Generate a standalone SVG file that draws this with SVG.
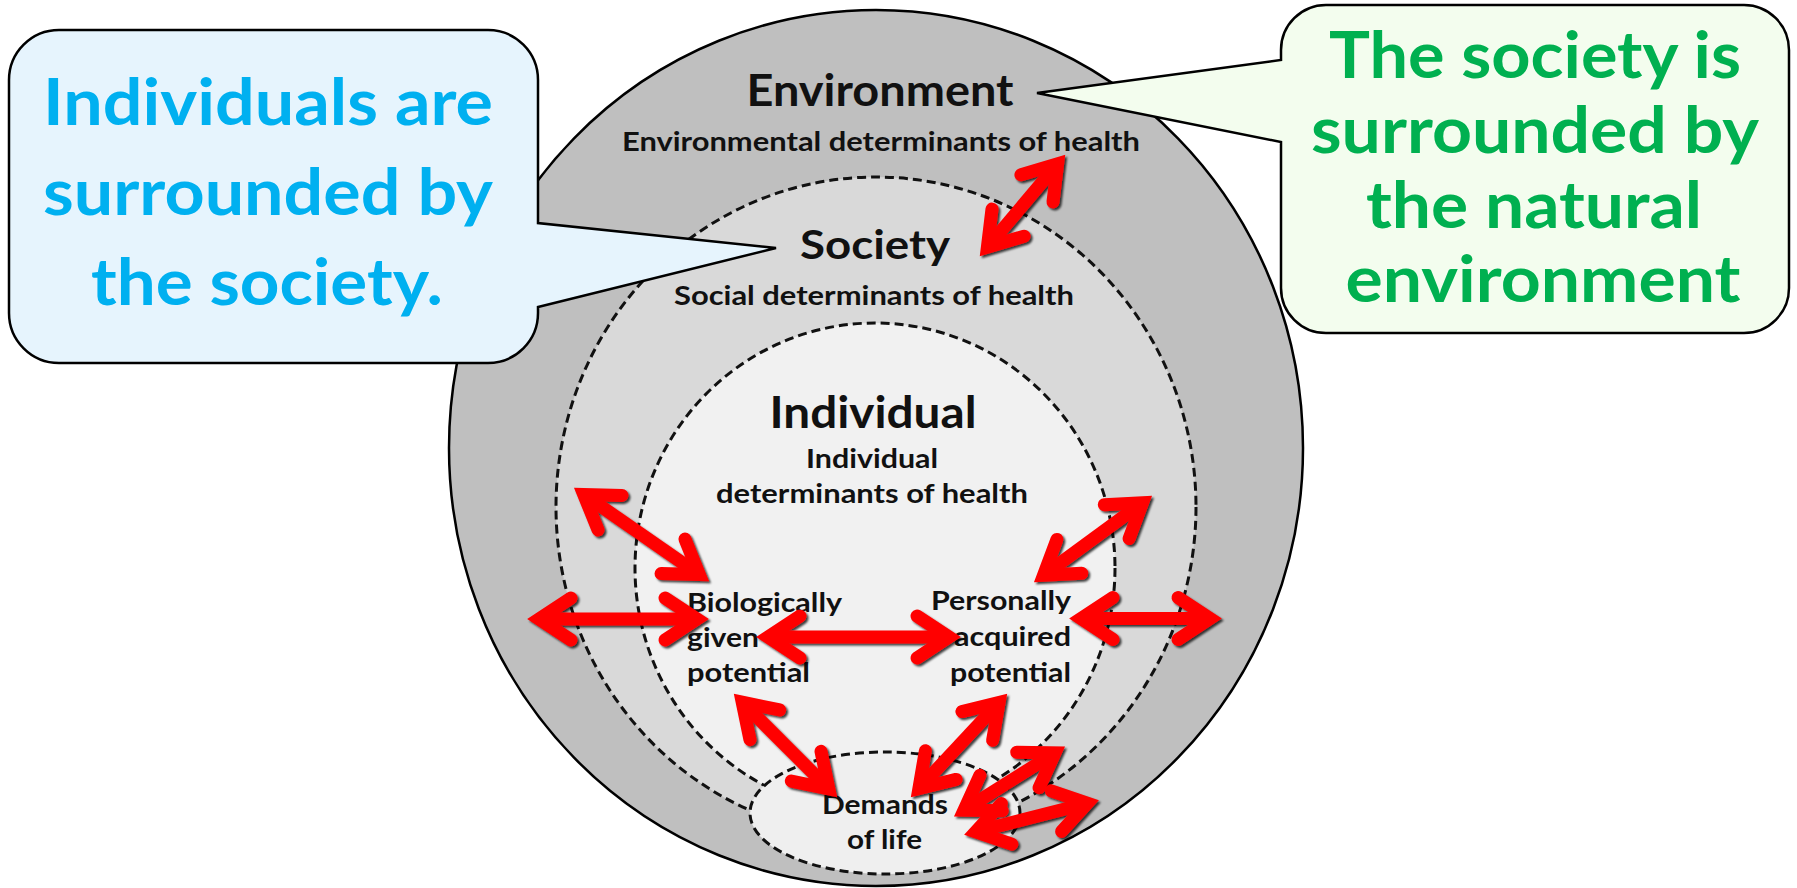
<svg xmlns="http://www.w3.org/2000/svg" width="1797" height="888" viewBox="0 0 1797 888">
  <style>
    .ring { stroke: #000; }
    .dash { stroke: #111; stroke-width: 3; stroke-dasharray: 9 5; }
    .t { font-family: Lato, "Open Sans", "Liberation Sans", sans-serif; font-weight: bold; fill: #111; }
    .big { font-size: 44px; }
    .small { font-size: 26px; }
    .mid { text-anchor: middle; }
    .end { text-anchor: end; }
    .bub { stroke: #000; stroke-width: 2.5; }
    .bt { font-family: Lato, "Open Sans", "Liberation Sans", sans-serif; font-weight: bold; font-size: 65px; text-anchor: middle; }
    .arr { stroke: #ff0000; stroke-width: 13; fill: none; marker-start: url(#head); marker-end: url(#head); }
  </style>
  <defs>
    <marker id="head" markerUnits="userSpaceOnUse" viewBox="-60 -40 80 80" markerWidth="80" markerHeight="80" refX="0" refY="0" orient="auto-start-reverse" overflow="visible">
      <path d="M -32 -21 L 0 0 L -32 21" fill="none" stroke="#ff0000" stroke-width="13" stroke-linecap="round" stroke-linejoin="miter" stroke-miterlimit="6"/>
    </marker>
    <filter id="sh" x="-20%" y="-20%" width="140%" height="140%">
      <feDropShadow dx="2" dy="2" stdDeviation="0.8" flood-color="#000" flood-opacity="0.75"/>
    </filter>
  </defs>

  <g id="environment">
    <ellipse cx="876" cy="448" rx="427" ry="438" fill="#bfbfbf" class="ring" stroke-width="2.5"/>
    <text class="t big mid" x="880" y="106" textLength="267" lengthAdjust="spacingAndGlyphs">Environment</text>
    <text class="t small mid" x="881" y="151" textLength="518" lengthAdjust="spacingAndGlyphs">Environmental determinants of health</text>
  </g>

  <g id="society">
    <ellipse cx="876" cy="507" rx="320" ry="330" fill="#d9d9d9" class="dash"/>
    <text class="t mid" font-size="41" x="875" y="259" textLength="150" lengthAdjust="spacingAndGlyphs">Society</text>
    <text class="t small mid" x="874" y="305" textLength="400" lengthAdjust="spacingAndGlyphs">Social determinants of health</text>
  </g>

  <g id="individual">
    <ellipse cx="875" cy="568" rx="240" ry="245" fill="#f1f1f1" class="dash"/>
    <text class="t mid" font-size="43" x="873" y="428" textLength="207" lengthAdjust="spacingAndGlyphs">Individual</text>
    <text class="t small mid" x="872" y="468" textLength="132" lengthAdjust="spacingAndGlyphs">Individual</text>
    <text class="t small mid" x="872" y="503" textLength="312" lengthAdjust="spacingAndGlyphs">determinants of health</text>
  </g>

  <g id="biological">
    <text class="t small" x="687" y="612" textLength="155" lengthAdjust="spacingAndGlyphs">Biologically</text>
    <text class="t small" x="687" y="647" textLength="72" lengthAdjust="spacingAndGlyphs">given</text>
    <text class="t small" x="687" y="682" textLength="123" lengthAdjust="spacingAndGlyphs">potential</text>
  </g>

  <g id="personal">
    <text class="t small end" x="1071" y="610" textLength="140" lengthAdjust="spacingAndGlyphs">Personally</text>
    <text class="t small end" x="1071" y="646" textLength="117" lengthAdjust="spacingAndGlyphs">acquired</text>
    <text class="t small end" x="1071" y="682" textLength="121" lengthAdjust="spacingAndGlyphs">potential</text>
  </g>

  <g id="demands">
    <ellipse cx="885" cy="813" rx="135" ry="61" fill="#efefef" class="dash"/>
    <text class="t small" x="822" y="814" textLength="126" lengthAdjust="spacingAndGlyphs">Demands</text>
    <text class="t small" x="847" y="849" textLength="75" lengthAdjust="spacingAndGlyphs">of life</text>
  </g>

  <g id="connectors" filter="url(#sh)">
    <line x1="1057.6" y1="163.9" x2="987.4" y2="247.1" class="arr"/>
    <line x1="583.7" y1="494.4" x2="699.3" y2="574.6" class="arr"/>
    <line x1="539" y1="619" x2="697" y2="619" class="arr"/>
    <line x1="768" y1="637" x2="949" y2="637" class="arr"/>
    <line x1="1081" y1="618.5" x2="1210" y2="618.5" class="arr"/>
    <line x1="1142.5" y1="502.7" x2="1043.5" y2="575.3" class="arr"/>
    <line x1="742.2" y1="702.2" x2="828.8" y2="788.8" class="arr"/>
    <line x1="999.1" y1="702.5" x2="918.9" y2="788.5" class="arr"/>
    <line x1="964" y1="810.1" x2="1055" y2="752.9" class="arr"/>
    <line x1="975.6" y1="831.8" x2="1087.4" y2="803.2" class="arr"/>
  </g>

  <g id="bubble-left">
    <path class="bub" fill="#e6f4fd" d="M 59 30 H 488 A 50 50 0 0 1 538 80 V 223 L 776 248 L 538 307 V 313 A 50 50 0 0 1 488 363 H 59 A 50 50 0 0 1 9 313 V 80 A 50 50 0 0 1 59 30 Z"/>
    <text class="bt" fill="#00b0f0" x="268" y="125" textLength="450" lengthAdjust="spacingAndGlyphs">Individuals are</text>
    <text class="bt" fill="#00b0f0" x="268" y="215" textLength="450" lengthAdjust="spacingAndGlyphs">surrounded by</text>
    <text class="bt" fill="#00b0f0" x="267" y="305" textLength="352" lengthAdjust="spacingAndGlyphs">the society.</text>
  </g>

  <g id="bubble-right">
    <path class="bub" fill="#f3fdee" d="M 1326 5 H 1744 A 45 45 0 0 1 1789 50 V 288 A 45 45 0 0 1 1744 333 H 1326 A 45 45 0 0 1 1281 288 V 142 L 1037 93 L 1281 60 V 50 A 45 45 0 0 1 1326 5 Z"/>
    <text class="bt" fill="#00b050" x="1535" y="78" textLength="412" lengthAdjust="spacingAndGlyphs">The society is</text>
    <text class="bt" fill="#00b050" x="1535" y="153" textLength="448" lengthAdjust="spacingAndGlyphs">surrounded by</text>
    <text class="bt" fill="#00b050" x="1534" y="228" textLength="336" lengthAdjust="spacingAndGlyphs">the natural</text>
    <text class="bt" fill="#00b050" x="1543" y="302" textLength="395" lengthAdjust="spacingAndGlyphs">environment</text>
  </g>
</svg>
